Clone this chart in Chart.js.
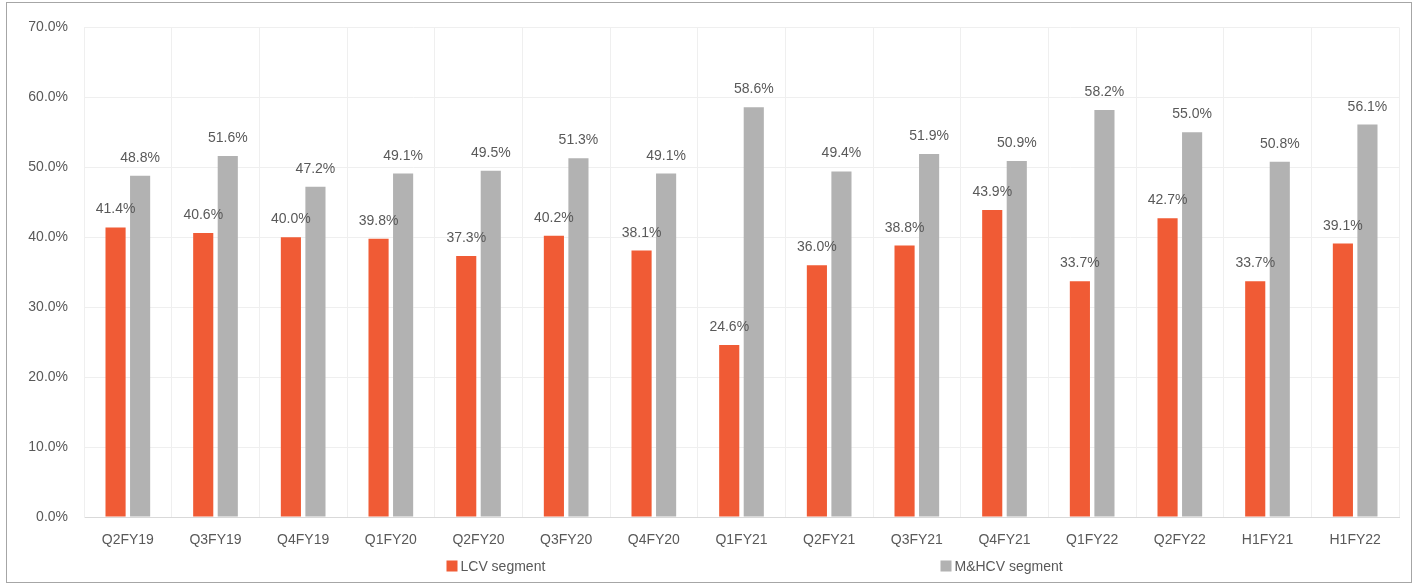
<!DOCTYPE html>
<html>
<head>
<meta charset="utf-8">
<script src="https://cdn.jsdelivr.net/npm/chart.js@4.4.1/dist/chart.umd.min.js"></script>
<style>
  html, body { margin: 0; padding: 0; background: #fff; }
  #box {
    position: absolute; left: 6px; top: 2px;
    width: 1404px; height: 579px;
    border: 1px solid #a6a6a6;
  }
</style>
</head>
<body>
<div id="box"><canvas id="segChart"></canvas></div>
<script>
const quarters = ['Q2FY19', 'Q3FY19', 'Q4FY19', 'Q1FY20', 'Q2FY20', 'Q3FY20', 'Q4FY20',
  'Q1FY21', 'Q2FY21', 'Q3FY21', 'Q4FY21', 'Q1FY22', 'Q2FY22', 'H1FY21', 'H1FY22'];
const lcvShare = [41.4, 40.6, 40.0, 39.8, 37.3, 40.2, 38.1, 24.6, 36.0, 38.8, 43.9, 33.7, 42.7, 33.7, 39.1];
const mhcvShare = [48.8, 51.6, 47.2, 49.1, 49.5, 51.3, 49.1, 58.6, 49.4, 51.9, 50.9, 58.2, 55.0, 50.8, 56.1];
const yTicks = [0, 10, 20, 30, 40, 50, 60, 70];

const FONT = '"Liberation Sans", Arial, sans-serif';
const TEXT = '#595959';

// value labels above each bar
const barLabels = {
  id: 'barLabels',
  afterDatasetsDraw(chart) {
    const ctx = chart.ctx;
    ctx.save();
    ctx.font = '14px ' + FONT;
    ctx.fillStyle = TEXT;
    ctx.textAlign = 'center';
    ctx.textBaseline = 'alphabetic';
    chart.data.datasets.forEach((ds, i) => {
      chart.getDatasetMeta(i).data.forEach((bar, j) => {
        ctx.fillText(ds.data[j].toFixed(1) + '%', bar.x, bar.y - 14);
      });
    });
    ctx.restore();
  }
};

// Excel style legend: two items spread wide under the axis
const wideLegend = {
  id: 'wideLegend',
  afterDraw(chart) {
    const ctx = chart.ctx;
    const mid = (chart.chartArea.left + chart.chartArea.right) / 2;
    const offsets = [-295, 199];
    const y = chart.height - 16;
    ctx.save();
    ctx.font = '14px ' + FONT;
    ctx.textBaseline = 'middle';
    ctx.textAlign = 'left';
    chart.data.datasets.forEach((ds, i) => {
      const x = mid + offsets[i];
      ctx.fillStyle = ds.backgroundColor;
      ctx.fillRect(x, y - 5.5, 11, 11);
      ctx.fillStyle = TEXT;
      ctx.fillText(ds.label, x + 14, y + 1);
    });
    ctx.restore();
  }
};

new Chart(document.getElementById('segChart'), {
  type: 'bar',
  data: {
    labels: quarters,
    datasets: [
      { label: 'LCV segment', data: lcvShare, backgroundColor: '#f05b35' },
      { label: 'M&HCV segment', data: mhcvShare, backgroundColor: '#b2b2b2' }
    ]
  },
  options: {
    responsive: true,
    maintainAspectRatio: false,
    animation: false,
    categoryPercentage: 0.56,
    barPercentage: 0.82,
    layout: { padding: { top: 21, right: 12, bottom: 29, left: 0 } },
    plugins: {
      tooltip: { enabled: false },
      legend: { display: false }
    },
    scales: {
      x: {
        grid: { color: '#efefef', drawTicks: false },
        border: { color: '#d9d9d9' },
        ticks: { font: { family: FONT, size: 14 }, color: TEXT, padding: 15, maxRotation: 0 },
        afterFit(s) { s.height = 36; }
      },
      y: {
        min: 0,
        max: 70,
        afterBuildTicks(s) { s.ticks = yTicks.map(v => ({ value: v })); },
        grid: { color: '#efefef', drawTicks: false },
        border: { color: '#efefef' },
        ticks: {
          font: { family: FONT, size: 14 },
          color: TEXT,
          padding: 16,
          callback: v => v.toFixed(1) + '%'
        },
        afterFit(s) { s.width = 77; }
      }
    }
  },
  plugins: [barLabels, wideLegend]
});
</script>
</body>
</html>
